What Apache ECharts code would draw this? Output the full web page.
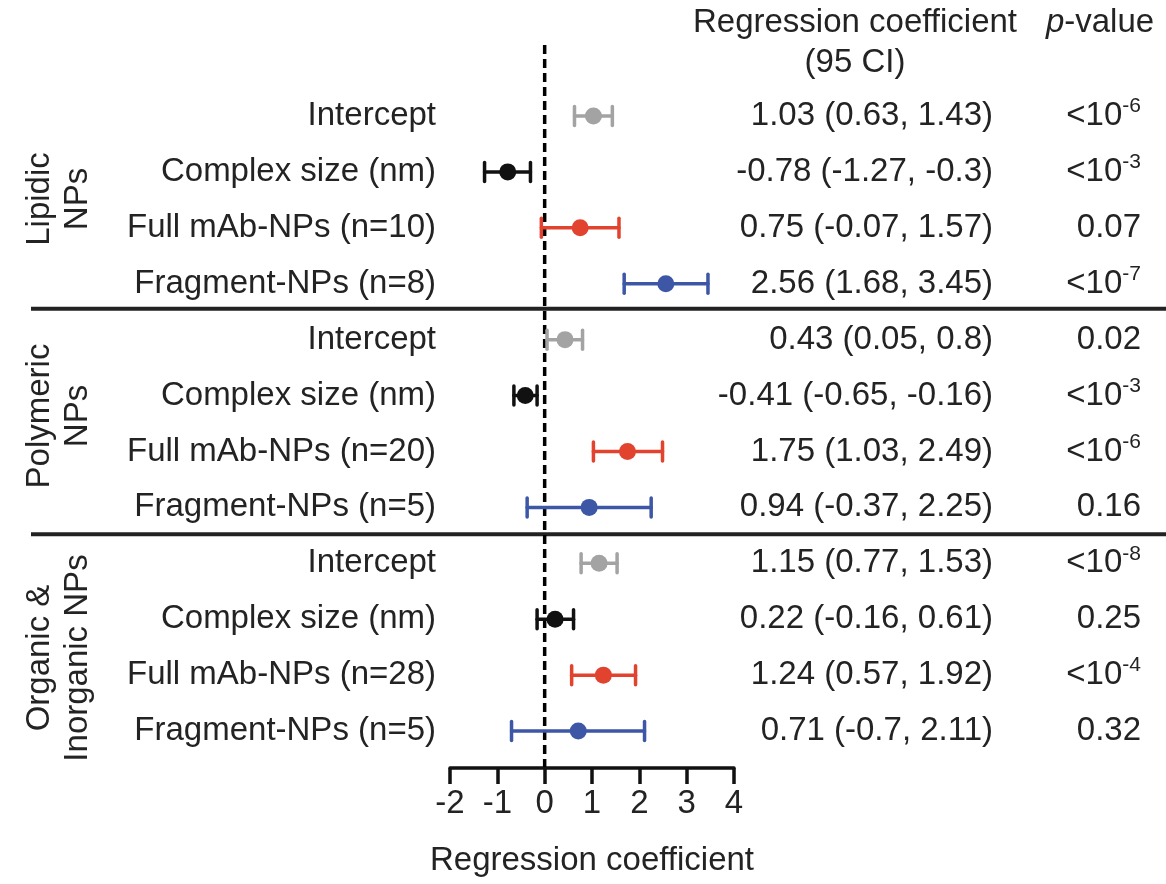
<!DOCTYPE html>
<html>
<head>
<meta charset="utf-8">
<script src="https://cdn.jsdelivr.net/npm/echarts@6/dist/echarts.min.js"></script>
<style>
html,body{margin:0;padding:0;background:#fff;}
#chart{width:1166px;height:884px;}
</style>
</head>
<body>
<div id="chart"></div>
<script>
const rowLabels = ['Intercept','Complex size (nm)','Full mAb-NPs (n=10)','Fragment-NPs (n=8)',
  'Intercept','Complex size (nm)','Full mAb-NPs (n=20)','Fragment-NPs (n=5)',
  'Intercept','Complex size (nm)','Full mAb-NPs (n=28)','Fragment-NPs (n=5)'];
const estimates = [1.03, -0.78, 0.75, 2.56, 0.43, -0.41, 1.75, 0.94, 1.15, 0.22, 1.24, 0.71];
const lower     = [0.63, -1.27, -0.07, 1.68, 0.05, -0.65, 1.03, -0.37, 0.77, -0.16, 0.57, -0.7];
const upper     = [1.43, -0.3, 1.57, 3.45, 0.8, -0.16, 2.49, 2.25, 1.53, 0.61, 1.92, 2.11];
const pValues   = ['<10^-6','<10^-3','0.07','<10^-7','0.02','<10^-3','<10^-6','0.16','<10^-8','0.25','<10^-4','0.32'];
const groupNames = [['Lipidic','NPs'],['Polymeric','NPs'],['Organic &','Inorganic NPs']];
const xMin = -2, xMax = 4, xStep = 1;

const rowColors = ['#a3a3a3','#111111','#e2432f','#3d56a6'];
const FONT = '"Liberation Sans", Arial, Helvetica, sans-serif';
const TXT = '#232323';

const idx = rowLabels.map((_, i) => String(i));
const ciText = estimates.map((e, i) => `${e} (${lower[i]}, ${upper[i]})`);
const pText = pValues.map(p => p.indexOf('^') >= 0 ? p.split('^')[0] + '{s|' + p.split('^')[1] + '}' : p);

const chart = echarts.init(document.getElementById('chart'), null, {renderer: 'canvas'});

const catAxisBase = {
  type: 'category', data: idx, inverse: true, gridIndex: 0,
  axisLine: {show: false}, axisTick: {show: false}, splitLine: {show: false}
};

const option = {
  backgroundColor: '#fff',
  animation: false,
  textStyle: {fontFamily: FONT},
  grid: {left: 450, right: 432, top: 88, bottom: 125, containLabel: false, outerBoundsMode: 'none'},
  xAxis: {
    type: 'value', min: xMin, max: xMax, interval: xStep, offset: 9,
    axisLine: {show: true, lineStyle: {color: '#111', width: 3.5}},
    axisTick: {show: true, length: 16, lineStyle: {color: '#111', width: 3.5}},
    splitLine: {show: false},
    axisLabel: {fontSize: 33, color: TXT, margin: 19, fontFamily: FONT},
    name: 'Regression coefficient', nameLocation: 'middle', nameGap: 76,
    nameTextStyle: {fontSize: 33, color: TXT, fontFamily: FONT}
  },
  yAxis: [
    Object.assign({}, catAxisBase, {
      position: 'left',
      axisLabel: {interval: 0, fontSize: 33, color: TXT, margin: 14, fontFamily: FONT,
        formatter: (v, i) => rowLabels[i]}
    }),
    Object.assign({}, catAxisBase, {
      position: 'right',
      axisLabel: {interval: 0, fontSize: 33, color: TXT, margin: 259, align: 'right', fontFamily: FONT,
        formatter: (v, i) => ciText[i]}
    }),
    Object.assign({}, catAxisBase, {
      position: 'right',
      axisLabel: {interval: 0, fontSize: 33, color: TXT, margin: 407, align: 'right', fontFamily: FONT,
        lineHeight: 40,
        formatter: (v, i) => pText[i],
        rich: {s: {fontSize: 21, color: TXT, fontFamily: FONT, verticalAlign: 'top', lineHeight: 22}}}
    })
  ],
  series: [{
    type: 'custom',
    yAxisIndex: 0,
    clip: false,
    data: estimates.map((e, i) => [i, e, lower[i], upper[i]]),
    encode: {x: [1, 2, 3], y: 0},
    renderItem: function (params, api) {
      const i = api.value(0);
      const c = rowColors[i % 4];
      const pe = api.coord([api.value(1), i]);
      const pl = api.coord([api.value(2), i]);
      const ph = api.coord([api.value(3), i]);
      const cap = 9.5;
      const ls = {stroke: c, lineWidth: 3.5, lineCap: 'round'};
      return {
        type: 'group',
        children: [
          {type: 'line', shape: {x1: pl[0], y1: pl[1], x2: ph[0], y2: ph[1]}, style: ls},
          {type: 'line', shape: {x1: pl[0], y1: pl[1] - cap, x2: pl[0], y2: pl[1] + cap}, style: ls},
          {type: 'line', shape: {x1: ph[0], y1: ph[1] - cap, x2: ph[0], y2: ph[1] + cap}, style: ls},
          {type: 'circle', shape: {cx: pe[0], cy: pe[1], r: 8.5}, style: {fill: c}}
        ]
      };
    }
  }]
};
chart.setOption(option);

// Layout-dependent decorations computed from the axes
const x0 = chart.convertToPixel({xAxisIndex: 0}, 0);
const yRow = i => chart.convertToPixel({yAxisIndex: 0}, i);
const sep1 = (yRow(3) + yRow(4)) / 2 - 3;
const sep2 = (yRow(7) + yRow(8)) / 2 - 1;
const groupCenters = [199, 416, 658];

const graphics = [
  {type: 'line', z: 1, shape: {x1: x0, y1: 45, x2: x0, y2: 767},
    style: {stroke: '#000', lineWidth: 3.5, lineDash: [9, 5]}},
  {type: 'line', shape: {x1: 31, y1: sep1, x2: 1166, y2: sep1}, style: {stroke: '#222', lineWidth: 4}},
  {type: 'line', shape: {x1: 31, y1: sep2, x2: 1166, y2: sep2}, style: {stroke: '#222', lineWidth: 4}},
  {type: 'text', x: 855, y: 23, style: {text: 'Regression coefficient', font: '33px ' + FONT, fill: TXT, align: 'center', verticalAlign: 'middle'}},
  {type: 'text', x: 855, y: 63, style: {text: '(95 CI)', font: '33px ' + FONT, fill: TXT, align: 'center', verticalAlign: 'middle'}},
  {type: 'text', x: 1100, y: 23, style: {text: '{i|p}-value', font: '33px ' + FONT, fill: TXT, align: 'center', verticalAlign: 'middle',
    rich: {i: {fontStyle: 'italic', fontSize: 33, fontFamily: FONT, fill: TXT}}}}
];
groupNames.forEach((g, k) => {
  graphics.push({type: 'text', x: 59, y: groupCenters[k], rotation: Math.PI / 2,
    style: {text: g.join('\n'), font: '33px ' + FONT, fill: TXT, align: 'center', verticalAlign: 'middle', lineHeight: 38}});
});
chart.setOption({graphic: {elements: graphics}});
</script>
</body>
</html>
